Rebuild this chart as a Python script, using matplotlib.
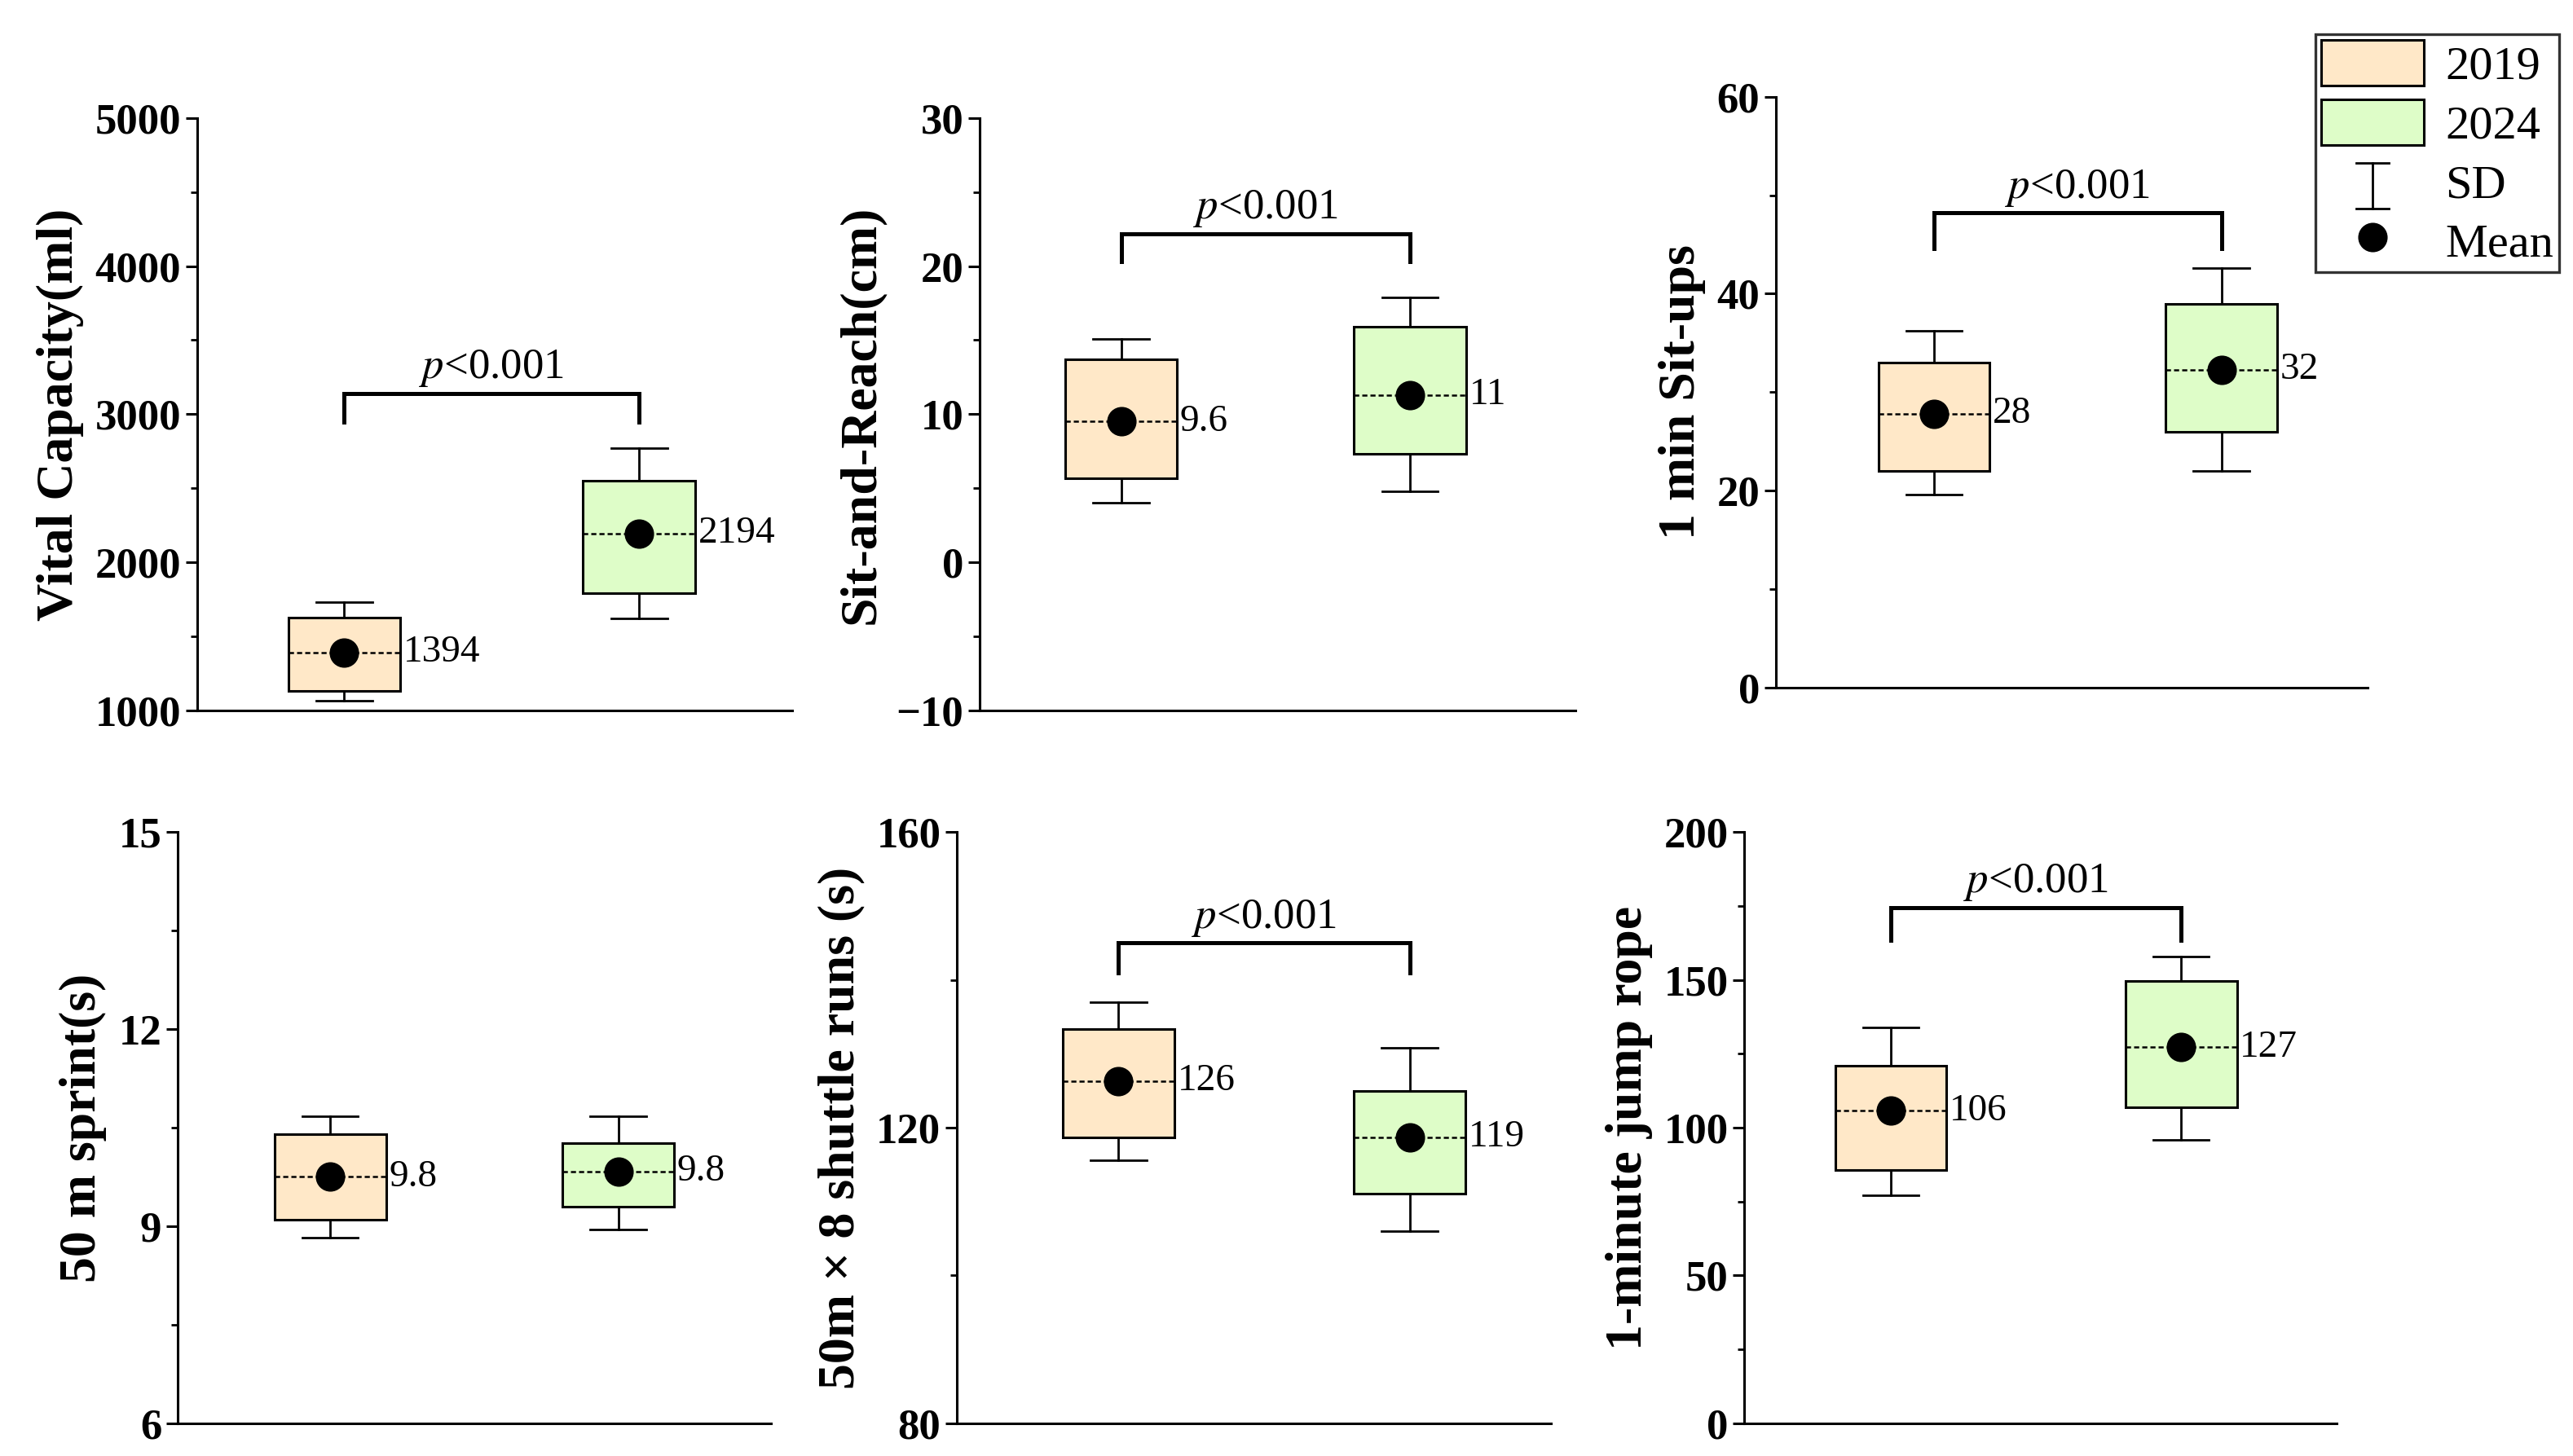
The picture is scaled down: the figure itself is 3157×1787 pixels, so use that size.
"""Physical fitness 2019 vs 2024: six box panels (mean, box, SD whiskers)."""
import matplotlib
matplotlib.use('Agg')
import matplotlib.pyplot as plt
from matplotlib.patches import Patch
from matplotlib.lines import Line2D
from matplotlib.ticker import MultipleLocator

plt.rcParams['font.family'] = ['Liberation Serif', 'DejaVu Serif']
plt.rcParams['axes.unicode_minus'] = True

years = ['2019', '2024']
colors = ['#FFE8C8', '#DEFDC8']

# ---- data (per panel: [2019, 2024]) ----
ylabels = ['Vital Capacity(ml)', 'Sit-and-Reach(cm)', '1 min Sit-ups',
           '50 m sprint(s)', '50m × 8 shuttle runs (s)', '1-minute jump rope']
means = [[1390, 2195], [9.5, 11.3], [27.8, 32.3],
         [9.75, 9.83], [126.3, 118.7], [105.7, 127.2]]
mean_labels = [['1394', '2194'], ['9.6', '11'], ['28', '32'],
               ['9.8', '9.8'], ['126', '119'], ['106', '127']]
box_lo = [[1135, 1790], [5.7, 7.3], [22.0, 26.0],
          [9.1, 9.3], [118.7, 111.1], [85.8, 106.9]]
box_hi = [[1625, 2550], [13.7, 15.9], [33.0, 39.0],
          [10.4, 10.27], [133.4, 125.0], [121.0, 149.7]]
sd_lo = [[1065, 1620], [4.0, 4.8], [19.6, 22.0],
         [8.83, 8.95], [115.6, 106.0], [77.0, 96.0]]
sd_hi = [[1730, 2770], [15.1, 17.9], [36.2, 42.6],
         [10.68, 10.68], [137.0, 130.8], [134.0, 158.0]]
ylims = [(1000, 5000), (-10, 30), (0, 60), (6, 15), (80, 160), (0, 200)]
ymajor = [1000, 10, 20, 3, 40, 50]
# bracket: (bar level, leg bottom) or None
brackets = [(3140, 2945), (22.2, 20.3), (48.2, 44.6), None, (145.0, 141.0), (174.5, 163.5)]

# axes rectangles in figure fractions
rects = [
    (0.0765, 0.512, 0.2315, 0.407),
    (0.3807, 0.512, 0.2315, 0.407),
    (0.6901, 0.5276, 0.2302, 0.406),
    (0.0689, 0.0225, 0.2308, 0.406),
    (0.3718, 0.0225, 0.2309, 0.406),
    (0.6779, 0.0225, 0.2302, 0.406),
]
xoff = [[0.0, 0.0], [-0.01, -0.02], [0.02, 0.01], [0.01, 0.0], [0.025, 0.02], [0.0, -0.005]]

fig = plt.figure(figsize=(3157 / 200, 1787 / 200), dpi=200)

for i in range(6):
    ax = fig.add_axes(rects[i])
    pos = [1 + xoff[i][0] * 2, 2 + xoff[i][1] * 2]
    stats = []
    for k in range(2):
        stats.append(dict(med=means[i][k], mean=means[i][k],
                          q1=box_lo[i][k], q3=box_hi[i][k],
                          whislo=sd_lo[i][k], whishi=sd_hi[i][k], fliers=[]))
    bp = ax.bxp(stats, positions=pos, widths=0.38, capwidths=0.19,
                patch_artist=True, showmeans=True, showfliers=False,
                boxprops=dict(linewidth=1.1, edgecolor='black'),
                whiskerprops=dict(linewidth=1.0, color='black'),
                capprops=dict(linewidth=1.0, color='black'),
                medianprops=dict(linewidth=0.9, color='black', linestyle=(0, (2.5, 1.5))),
                meanprops=dict(marker='o', markersize=12, markerfacecolor='black',
                               markeredgecolor='black'))
    for patch, c in zip(bp['boxes'], colors):
        patch.set_facecolor(c)
    for k in range(2):
        ax.text(pos[k] + 0.2, means[i][k], mean_labels[i][k], fontsize=17,
                ha='left', va='center')

    if brackets[i] is not None:
        top, leg = brackets[i]
        ax.plot([pos[0], pos[0], pos[1], pos[1]], [leg, top, top, leg],
                color='black', lw=1.8, solid_joinstyle='miter')
        ax.text((pos[0] + pos[1]) / 2, top + (ylims[i][1] - ylims[i][0]) * 0.008,
                '$\\mathit{p}$<0.001', fontsize=19, ha='center', va='bottom',
                math_fontfamily='stix')

    ax.set_xlim(0.5, 2.52)
    ax.set_ylim(*ylims[i])
    ax.yaxis.set_major_locator(MultipleLocator(ymajor[i]))
    ax.yaxis.set_minor_locator(MultipleLocator(ymajor[i] / 2))
    ax.set_xticks([])
    for s in ['top', 'right']:
        ax.spines[s].set_visible(False)
    for s in ['left', 'bottom']:
        ax.spines[s].set_linewidth(1.1)
    ax.tick_params(axis='y', which='major', length=5, width=1.1, labelsize=19, pad=2)
    ax.tick_params(axis='y', which='minor', length=3, width=1.0)
    for lab in ax.get_yticklabels():
        lab.set_fontweight('bold')
    ax.set_ylabel(ylabels[i], fontsize=23, fontweight='bold', labelpad=5)

handles = [Patch(facecolor=colors[0], edgecolor='black', linewidth=1.1),
           Patch(facecolor=colors[1], edgecolor='black', linewidth=1.1),
           Line2D([], [], color='black', ls='none'),
           Line2D([], [], color='black', marker='o', ls='none', markersize=12)]
leg = fig.legend(handles, years + ['SD', 'Mean'], loc='upper right',
                 bbox_to_anchor=(0.9946, 0.9765), fontsize=21, frameon=True,
                 fancybox=False, edgecolor='black', handlelength=2.15,
                 handleheight=1.1, labelspacing=0.22, borderpad=0.12,
                 handletextpad=0.45, borderaxespad=0)
leg.get_frame().set_linewidth(1.2)

# draw the SD "I" symbol in the legend, centred under the colour patches
fig.canvas.draw()
inv = fig.transFigure.inverted()
bb = leg.get_texts()[2].get_window_extent().transformed(inv)
p0 = leg.legend_handles[0].get_window_extent().transformed(inv)
cx = (p0.x0 + p0.x1) / 2
cy = (bb.y0 + bb.y1) / 2
hh = (p0.y1 - p0.y0) * 0.5
cw = (p0.x1 - p0.x0) * 0.32
fig.add_artist(Line2D([cx, cx], [cy - hh, cy + hh], color='black', lw=1.0,
                      transform=fig.transFigure, zorder=20))
for yy in (cy - hh, cy + hh):
    fig.add_artist(Line2D([cx - cw / 2, cx + cw / 2], [yy, yy], color='black',
                          lw=1.0, transform=fig.transFigure, zorder=20))

fig.savefig('out.png', dpi=200)
